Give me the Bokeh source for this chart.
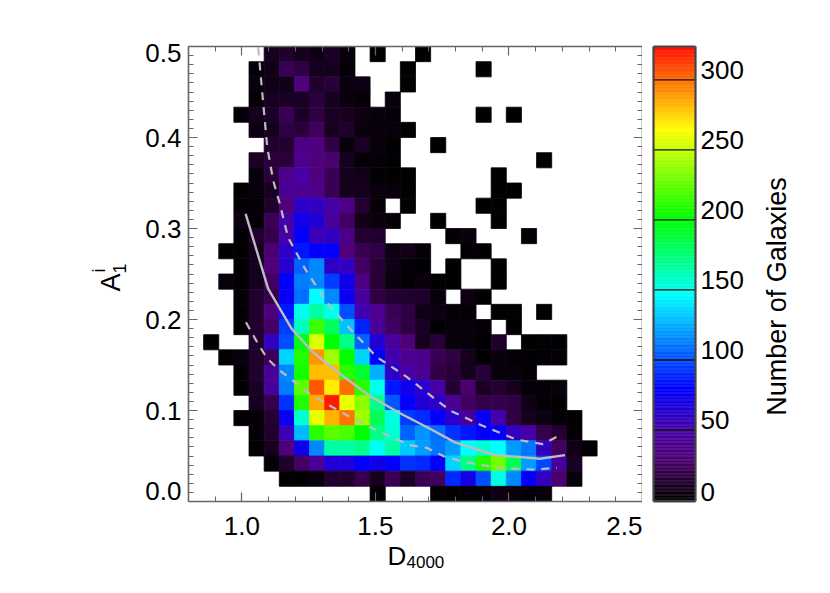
import numpy as np
from bokeh.plotting import figure
from bokeh.layouts import row, column
from bokeh.models import Label, LinearAxis, Range1d, FixedTicker
from bokeh.embed import file_html
from bokeh.resources import INLINE

# counts per cell, top row (A1 = 0.5) first; columns run from D4000 = 0.8 to 2.5
r00 = [0,0,0,0,0,8,12,8,6,10,3,0,1,0,0,1,0,0,0,0,0,0,0,0,0,0,0,0,0,0]
r01 = [0,0,0,0,2,6,22,18,8,8,2,0,0,0,1,0,0,0,0,1,0,0,0,0,0,0,0,0,0,0]
r02 = [0,0,0,0,3,6,7,32,12,16,4,5,0,0,1,0,0,0,0,0,0,0,0,0,0,0,0,0,0,0]
r03 = [0,0,0,0,1,9,10,10,16,9,4,2,0,3,0,0,0,0,0,0,0,0,0,0,0,0,0,0,0,0]
r04 = [0,0,0,2,8,10,22,11,18,10,9,5,3,2,0,0,0,0,0,1,0,1,0,0,0,0,0,0,0,0]
r05 = [0,0,0,0,5,8,18,16,24,9,12,4,3,3,1,0,0,0,0,0,0,0,0,0,0,0,0,0,0,0]
r06 = [0,0,0,0,0,12,13,35,32,18,3,10,3,1,0,0,1,0,0,0,0,0,0,0,0,0,0,0,0,0]
r07 = [0,0,0,0,10,16,16,38,32,28,8,2,2,1,0,0,0,0,0,0,0,0,0,1,0,0,0,0,0,0]
r08 = [0,0,0,0,3,16,38,48,32,22,8,7,1,1,1,0,0,0,0,0,1,0,0,0,0,0,0,0,0,0]
r09 = [0,0,0,1,3,9,42,40,38,22,8,8,4,3,1,0,0,0,0,0,1,1,0,0,0,0,0,0,0,0]
r10 = [0,0,0,1,2,12,30,60,58,48,36,14,2,0,1,0,0,0,0,1,1,0,0,0,0,0,0,0,0,0]
r11 = [0,0,0,6,2,22,50,72,65,45,25,7,4,2,0,0,1,0,0,0,1,0,0,0,0,0,0,0,0,0]
r12 = [0,0,0,1,12,20,48,78,55,58,36,13,12,0,0,0,0,1,4,0,0,0,2,0,0,0,0,0,0,0]
r13 = [0,0,1,1,8,28,60,85,78,78,30,22,18,5,7,2,0,0,1,1,0,0,0,0,0,0,0,0,0,0]
r14 = [0,0,0,1,8,30,62,105,115,60,58,25,15,6,2,1,0,1,0,0,1,0,0,0,0,0,0,0,0,0]
r15 = [0,0,3,1,8,25,79,112,115,95,72,35,15,4,2,4,1,1,0,0,1,0,0,0,0,0,0,0,0,0]
r16 = [0,0,0,2,12,20,75,108,146,115,75,45,18,14,12,12,3,0,5,1,0,0,0,0,0,0,0,0,0,0]
r17 = [0,0,0,2,12,32,85,150,165,150,100,52,40,22,18,7,5,2,2,0,1,1,0,1,0,0,0,0,0,0]
r18 = [0,0,0,1,12,26,95,160,215,180,130,88,42,25,18,10,1,3,3,2,0,1,0,0,0,0,0,0,0,0]
r19 = [0,1,0,0,12,58,100,195,255,200,172,105,65,45,30,8,15,3,3,1,12,0,1,1,1,0,0,0,0,0]
r20 = [0,0,1,4,12,22,135,208,290,240,200,135,78,52,40,38,22,18,8,1,4,2,1,1,2,0,0,0,0,0]
r21 = [0,0,0,1,12,42,115,205,280,280,210,190,125,60,48,40,18,16,8,16,3,3,2,0,0,0,0,0,0,0]
r22 = [0,0,0,1,10,45,112,222,305,268,300,210,150,85,72,62,48,14,28,10,14,8,2,2,3,0,0,0,0,0]
r23 = [0,0,0,0,8,20,92,208,285,320,258,235,170,102,78,65,60,42,24,20,20,18,6,2,1,0,0,0,0,0]
r24 = [0,0,0,1,2,14,75,155,258,282,298,240,182,152,95,90,78,62,44,75,50,18,8,5,2,1,0,0,0,0]
r25 = [0,0,0,0,2,12,55,128,210,222,218,200,172,155,105,118,108,92,85,78,78,58,48,20,14,1,0,0,0,0]
r26 = [0,0,0,0,1,8,30,72,115,165,165,170,148,165,132,120,110,120,146,155,146,120,110,58,25,6,1,0,0,0]
r27 = [0,0,0,0,0,2,12,26,42,66,66,78,72,78,92,90,78,135,172,208,228,182,120,98,45,10,0,0,0,0]
r28 = [0,0,0,0,0,0,1,1,3,12,12,20,8,22,10,22,24,90,70,100,152,115,78,58,28,3,0,0,0,0]
r29 = [0,0,0,0,0,0,0,0,0,0,0,0,1,0,0,0,1,1,2,2,6,3,2,3,0,0,0,0,0,0]
rows = [r00,r01,r02,r03,r04,r05,r06,r07,r08,r09,r10,r11,r12,r13,r14,r15,r16,r17,r18,r19,
        r20,r21,r22,r23,r24,r25,r26,r27,r28,r29]

median_x = [1.014,1.098,1.186,1.266,1.378,1.479,1.592,1.697,1.798,1.948,2.116,2.21]
median_y = [0.316,0.234,0.190,0.164,0.138,0.116,0.097,0.081,0.065,0.051,0.047,0.051]
upper_x = [1.061,1.080,1.095,1.117,1.142,1.173,1.236,1.317,1.404,1.504,1.617,1.779,1.903,2.029,2.127,2.179]
upper_y = [0.499,0.437,0.389,0.353,0.327,0.290,0.256,0.219,0.190,0.159,0.137,0.100,0.083,0.068,0.063,0.071]
lower_x = [1.015,1.057,1.095,1.142,1.255,1.379,1.505,1.629,1.692,1.754,1.823,1.960,2.097,2.179]
lower_y = [0.197,0.175,0.157,0.144,0.118,0.097,0.078,0.062,0.059,0.050,0.044,0.037,0.035,0.037]

cb_ticks = [0, 50, 100, 150, 200, 250, 300]
x_ticks = [1.0, 1.5, 2.0, 2.5]
y_ticks = [0.0, 0.1, 0.2, 0.3, 0.4, 0.5]

FONT = "Liberation Sans"
TICK = "26px"
SPINE = "#666666"
LINE = "#bdbdbd"

# colour scale
c_v = [0, 15, 30, 50, 79, 146, 200, 264, 324]
c_r = [0, 40, 80, 70, 0, 0, 0, 255, 255]
c_g = [0, 0, 0, 0, 0, 255, 255, 255, 10]
c_b = [0, 55, 120, 170, 255, 255, 0, 0, 0]

def colour(v):
    return "#%02x%02x%02x" % (int(np.interp(v, c_v, c_r)), int(np.interp(v, c_v, c_g)), int(np.interp(v, c_v, c_b)))

X0, X1, Y0, Y1 = 0.8, 2.5, 0.0, 0.5
N = 30
dx = (X1 - X0) / N
dy = (Y1 - Y0) / N
L, R, B, T, C = [], [], [], [], []
for i, rw in enumerate(rows):
    assert len(rw) == N
    for j, v in enumerate(rw):
        if v > 0:
            L.append(X0 + j * dx)
            R.append(X0 + (j + 1) * dx)
            T.append(Y1 - i * dy)
            B.append(Y1 - (i + 1) * dy)
            C.append(colour(v))

TOTAL_H = 582
p = figure(frame_width=454, frame_height=455, x_range=Range1d(X0, X1), y_range=Range1d(Y0, Y1),
           output_backend="svg", toolbar_location=None, tools="",
           min_border_left=48, min_border_top=46, min_border_right=0, min_border_bottom=42,
           background_fill_color="white", outline_line_color=None)
p.xgrid.visible = False
p.ygrid.visible = False
p.quad(left=L, right=R, bottom=B, top=T, fill_color=C, line_color=C, line_width=0.8)
p.line(median_x, median_y, line_color=LINE, line_width=2.4)
p.line(upper_x, upper_y, line_color=LINE, line_width=2.2, line_dash="8 7")
p.line(lower_x, lower_y, line_color=LINE, line_width=2.2, line_dash="8 7")

def style(ax, ticks, minor, labels):
    ax.ticker = FixedTicker(ticks=ticks, minor_ticks=minor)
    ax.axis_line_color = SPINE
    ax.axis_line_width = 1.6
    ax.major_tick_line_color = SPINE
    ax.minor_tick_line_color = SPINE
    ax.major_tick_line_width = 1.2
    ax.minor_tick_line_width = 1.0
    ax.major_tick_in = 9
    ax.major_tick_out = 0
    ax.minor_tick_in = 5
    ax.minor_tick_out = 0
    ax.major_label_text_font = FONT
    ax.major_label_text_color = "black"
    ax.major_label_text_font_size = TICK if labels else "0px"
    ax.major_label_text_font_style = "normal"

x_minor = [round(0.8 + 0.1 * k, 3) for k in range(18)]
y_minor = [round(0.01 * k, 3) for k in range(51)]
style(p.xaxis[0], x_ticks, x_minor, True)
p.xaxis[0].major_label_standoff = 15
p.xaxis[0].major_label_overrides = {1.0: "1.0", 1.5: "1.5", 2.0: "2.0", 2.5: "2.5"}

# left axis: end labels sit inside the axis span, as in the reference
y_lab_pos = [0.011, 0.1, 0.2, 0.3, 0.4, 0.4934]
style(p.yaxis[0], y_lab_pos, y_minor, True)
p.yaxis[0].major_tick_in = 0
p.yaxis[0].major_label_standoff = 7
p.yaxis[0].major_label_overrides = {pos: "%.1f" % t for pos, t in zip(y_lab_pos, y_ticks)}
p.segment(x0=[X0] * len(y_ticks), x1=[X0 + 0.034] * len(y_ticks), y0=y_ticks, y1=y_ticks,
          line_color=SPINE, line_width=1.2)

top = LinearAxis(); style(top, x_ticks, x_minor, False)
top.major_label_standoff = 0
p.add_layout(top, "above")
right = LinearAxis(); style(right, y_ticks, y_minor, False)
right.major_label_standoff = 0
p.add_layout(right, "right")

def panel(x_a, x_b, y_top, y_bot):
    f = figure(frame_width=x_b - x_a, frame_height=y_bot - y_top, x_range=Range1d(x_a, x_b), y_range=Range1d(y_bot, y_top),
               output_backend="svg", toolbar_location=None, tools="",
               min_border_left=0, min_border_right=0, min_border_top=0, min_border_bottom=0,
               outline_line_color=None, x_axis_location=None, y_axis_location=None)
    f.xgrid.visible = False
    f.ygrid.visible = False
    return f

def txt(fig, x, y, s, size, align="center", base="alphabetic", angle=0):
    fig.add_layout(Label(x=x, y=y, text=s, text_font=FONT, text_font_size=size, text_color="black",
                         text_align=align, text_baseline=base, angle=angle, angle_units="deg"))

left_panel = panel(0, 140, 0, TOTAL_H)
txt(left_panel, 110, 236, "A", "27px", angle=90)
txt(left_panel, 98, 224, "i", "18px", angle=90)
txt(left_panel, 119, 222, "1", "18px", angle=90)

bottom_panel = panel(140, 642, 542, TOTAL_H)
txt(bottom_panel, 339, 554, "D", "26px", align="left")
txt(bottom_panel, 358, 560, "4000", "17px", align="left")

# colour bar
cb_lo, cb_hi = -1.07, 323.8
levels = list(range(0, 324))
cb = figure(frame_width=42, frame_height=455, x_range=Range1d(0, 1), y_range=Range1d(cb_lo, cb_hi),
            output_backend="svg", toolbar_location=None, tools="",
            min_border_left=11, min_border_top=46, min_border_right=58, min_border_bottom=81,
            outline_line_color=None)
cb.xgrid.visible = False
cb.ygrid.visible = False
cb.xaxis.visible = False
cols = [colour(v) for v in levels]
cb.quad(left=0, right=1, bottom=levels, top=[v + 1 for v in levels], fill_color=cols, line_color=cols, line_width=0.5)
cb.segment(x0=[0] * len(cb_ticks), x1=[1] * len(cb_ticks), y0=cb_ticks, y1=cb_ticks, line_color="#111111", line_width=1.4)

cy = cb.yaxis[0]
cy.ticker = FixedTicker(ticks=[])
cy.axis_line_color = "#444444"
cy.axis_line_width = 2.2
cy.major_label_text_font_size = "0px"
cy.major_tick_in = 0
cy.major_tick_out = 0
cy.major_label_standoff = 0
cb_lab_pos = [t + (5.7 if t == 0 else 7.14) for t in cb_ticks]
ca = LinearAxis()
ca.ticker = FixedTicker(ticks=cb_lab_pos)
ca.major_label_overrides = {pos: str(t) for pos, t in zip(cb_lab_pos, cb_ticks)}
ca.axis_line_color = "#444444"
ca.axis_line_width = 2.2
ca.major_tick_in = 0
ca.major_tick_out = 0
ca.minor_tick_in = 0
ca.minor_tick_out = 0
ca.major_label_text_font = FONT
ca.major_label_text_font_size = TICK
ca.major_label_text_color = "black"
ca.major_label_standoff = 5
cb.add_layout(ca, "right")
for place in ("above", "below"):
    cb.add_layout(LinearAxis(ticker=FixedTicker(ticks=[]), axis_line_color="#444444", axis_line_width=2.2,
                             major_label_text_font_size="0px", major_tick_in=0, major_tick_out=0,
                             minor_tick_in=0, minor_tick_out=0, major_label_standoff=0), place)

right_panel = panel(754, 820, 0, TOTAL_H)
txt(right_panel, 777, 250, "Number of Galaxies", "27px", angle=90)

page = row(left_panel, column(p, bottom_panel, spacing=0), cb, right_panel, spacing=0)
open("out.html", "w").write(file_html(page, INLINE))
